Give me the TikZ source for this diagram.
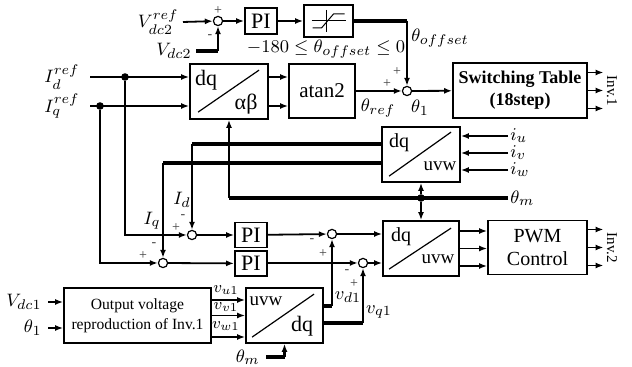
\documentclass[tikz,border=0pt]{standalone}
\usepackage{fontspec}
\setmainfont{Liberation Serif}
\usepackage{tikz}
\usetikzlibrary{arrows.meta}

\begin{document}
\begin{tikzpicture}[
  x=0.5pt, y=-0.5pt,
  box/.style={rectangle, draw, line width=0.9pt, align=center, inner sep=0pt},
  sum/.style={circle, draw, line width=0.6pt, fill=white, inner sep=0pt, minimum size=4.6pt},
  dot/.style={circle, fill, inner sep=0pt, minimum size=3.8pt},
  arrow/.style={-{Latex[length=4pt,width=3pt]}, line width=0.9pt},
  bus/.style={line width=1.7pt},
  lbl/.style={font=\fontsize{9.5}{10}\selectfont, inner sep=1pt},
  slbl/.style={font=\fontsize{8.5}{9}\selectfont, inner sep=0.5pt},
  sgn/.style={font=\fontsize{7}{7}\selectfont, text=black!75, inner sep=0pt},
  blk/.style={font=\fontsize{10}{10}\selectfont, inner sep=0pt},
  inv/.style={rotate=-90, font=\fontsize{7.5}{8}\selectfont, inner sep=1.5pt}
]
\useasboundingbox (0,0) rectangle (632,367);

% DC-link voltage loop
\node[lbl, anchor=east, inner xsep=2pt] (vdcref) at (183,22) {$V_{dc2}^{ref}$};
\node[lbl, anchor=east, inner xsep=2pt] (vdc) at (196,51) {$V_{dc2}$};
\node[sum] (sumv) at (218,21) {};
\node[box, minimum width=16pt, minimum height=13pt, font=\fontsize{11}{11}\selectfont] (pi1) at (261,21) {PI};
\node[box, minimum width=24.5pt, minimum height=16pt] (sat) at (328.5,21) {};
\draw[line width=0.5pt] ([shift={(-17,0)}]sat.center) -- ([shift={(17,0)}]sat.center);
\draw[line width=0.5pt] ([shift={(-2,-11)}]sat.center) -- ([shift={(-2,11)}]sat.center);
\draw[line width=0.5pt] ([shift={(-16,7)}]sat.center) -- ([shift={(-7,7)}]sat.center)
  -- ([shift={(5,-7)}]sat.center) -- ([shift={(16,-7)}]sat.center);
\node[sgn] (sv1) at (218,11) {+};
\node[sgn] (sv2) at (210,37) {-};
\node[lbl] (lim) at (326,49) {$-180\leq\theta_{offset}\leq 0$};

% angle of the current reference
\node[lbl, anchor=east, inner xsep=5pt] (idref) at (90,77) {$I_d^{ref}$};
\node[lbl, anchor=east, inner xsep=5pt] (iqref) at (90,106) {$I_q^{ref}$};
\node[dot] (did) at (125,77) {};
\node[dot] (diq) at (100,106) {};
\node[box, minimum width=39pt, minimum height=27.5pt] (dqab) at (229,91.5) {};
\draw[line width=0.6pt] ([shift={(9,49)}]dqab.north west) -- ([shift={(70,7)}]dqab.north west);
\node[blk, font=\fontsize{11}{11}\selectfont] (dqab1) at ([shift={(17,17)}]dqab.north west) {dq};
\node[blk, font=\fontsize{11}{11}\selectfont] (dqab2) at ([shift={(57,41)}]dqab.north west) {αβ};
\node[box, minimum width=33pt, minimum height=27pt, font=\fontsize{10.5}{11}\selectfont] (atan) at (322,91) {atan2};
\node[sum] (sumth) at (407,91) {};
\node[box, minimum width=67pt, minimum height=27.5pt, font=\fontsize{9}{11}\selectfont\bfseries] (sw) at (520,90.5) {Switching Table\\(18step)};
\node[inv] (inv1) at (612,91) {Inv.1};
\node[lbl] (thoff) at (440,38) {$\theta_{offset}$};
\node[lbl] (thref) at (378,108) {$\theta_{ref}$};
\node[lbl] (th1) at (420,108) {$\theta_1$};
\node[sgn] (st1) at (397,72) {+};
\node[sgn] (st2) at (387,84) {+};

% current control
\node[box, minimum width=39pt, minimum height=27.5pt] (dquvw1) at (421,154.5) {};
\draw[line width=0.6pt] ([shift={(8,50)}]dquvw1.north west) -- ([shift={(70,6)}]dquvw1.north west);
\node[blk] (dquvw1a) at ([shift={(18,17)}]dquvw1.north west) {dq};
\node[blk, font=\fontsize{9.5}{10}\selectfont] (dquvw1b) at ([shift={(59,40)}]dquvw1.north west) {uvw};
\node[lbl, anchor=west] (iu) at (508,136) {$i_u$};
\node[lbl, anchor=west] (iv) at (508,153) {$i_v$};
\node[lbl, anchor=west] (iw) at (508,170) {$i_w$};
\node[lbl, anchor=west] (thm) at (508,198) {$\theta_m$};
\node[dot] (dthm) at (421,198) {};
\node[sum] (sumd) at (192,235) {};
\node[sum] (sumq) at (163,263) {};
\node[box, minimum width=16pt, minimum height=12.5pt, font=\fontsize{11}{11}\selectfont] (pi2) at (251,235) {PI};
\node[box, minimum width=16pt, minimum height=12.5pt, font=\fontsize{11}{11}\selectfont] (pi3) at (251,263.5) {PI};
\node[sum] (sumd2) at (332,234) {};
\node[sum] (sumq2) at (363,263) {};
\node[box, minimum width=38pt, minimum height=27.5pt] (dquvw2) at (421,248.5) {};
\draw[line width=0.6pt] ([shift={(7,49)}]dquvw2.north west) -- ([shift={(69,8)}]dquvw2.north west);
\node[blk] (dquvw2a) at ([shift={(19,17)}]dquvw2.north west) {dq};
\node[blk, font=\fontsize{9.5}{10}\selectfont] (dquvw2b) at ([shift={(56,39)}]dquvw2.north west) {uvw};
\node[box, minimum width=49.5pt, minimum height=27pt, font=\fontsize{10}{11.5}\selectfont] (pwm) at (537.5,247.5) {PWM\\Control};
\node[inv] (inv2) at (612,248) {Inv.2};
\node[lbl] (id) at (182,200) {$I_d$};
\node[lbl] (iq) at (152,221) {$I_q$};
\node[sgn] (sd1) at (183,217) {-};
\node[sgn] (sd2) at (176,228) {+};
\node[sgn] (sq1) at (154,245) {-};
\node[sgn] (sq2) at (143,256) {+};
\node[sgn] (sd3) at (312,241) {-};
\node[sgn] (sd4) at (323,254) {+};
\node[sgn] (sq3) at (347,272) {-};
\node[sgn] (sq4) at (354,284) {+};

% voltage of Inv.1
\node[lbl, anchor=east, inner xsep=3pt] (vdc1) at (48,302) {$V_{dc1}$};
\node[lbl, anchor=east, inner xsep=3pt] (th1b) at (48,328) {$\theta_1$};
\node[box, minimum width=73.5pt, minimum height=27.5pt, font=\fontsize{7.8}{10}\selectfont] (outrep) at (137.5,315.5) {Output voltage\\reproduction of Inv.1};
\node[box, minimum width=38.5pt, minimum height=27.5pt] (uvwdq) at (284.5,315.5) {};
\draw[line width=0.6pt] ([shift={(7,50)}]uvwdq.north west) -- ([shift={(69,7)}]uvwdq.north west);
\node[blk, font=\fontsize{9.5}{10}\selectfont] (uvwdqa) at ([shift={(21,14)}]uvwdq.north west) {uvw};
\node[blk, font=\fontsize{11}{11}\selectfont] (uvwdqb) at ([shift={(57,39)}]uvwdq.north west) {dq};
\node[slbl] (vu1) at (226,290) {$v_{u1}$};
\node[slbl] (vv1) at (226,307) {$v_{v1}$};
\node[slbl] (vw1) at (226,326) {$v_{w1}$};
\node[lbl] (vd1) at (348,297) {$v_{d1}$};
\node[lbl] (vq1) at (379,312) {$v_{q1}$};
\node[lbl, anchor=east, inner xsep=3pt] (thm2) at (266,357) {$\theta_m$};

% connectors
\draw[arrow] (vdcref.east) -- (sumv);
\draw[bus] (vdc.east) -- (vdc.east -| sumv);
\draw[arrow] (vdc.east -| sumv) -- (sumv);
\draw[arrow] (sumv) -- (pi1);
\draw[arrow] (pi1) -- (sat);
\draw[bus] (sat.east) -- (sat.east -| sumth);
\draw[arrow] (sat.east -| sumth) -- (sumth);

\draw[arrow] (idref.east) -- (idref.east -| dqab.west);
\draw[arrow] (iqref.east) -- (iqref.east -| dqab.west);
\draw[arrow] ([yshift=7.25pt]dqab.east) -- ([yshift=7.25pt]dqab.east -| atan.west);
\draw[arrow] ([yshift=-7.25pt]dqab.east) -- ([yshift=-7.25pt]dqab.east -| atan.west);
\draw[arrow] (atan) -- (sumth);
\draw[arrow] (sumth) -- (sw);
\draw[arrow] ([yshift=9pt]sw.east) -- ([yshift=9pt]sw.east -| inv1.south);
\draw[arrow] (sw.east) -- (sw.east -| inv1.south);
\draw[arrow] ([yshift=-9pt]sw.east) -- ([yshift=-9pt]sw.east -| inv1.south);

\draw[arrow] (iu.west) -- (iu.west -| dquvw1.east);
\draw[arrow] (iv.west) -- (iv.west -| dquvw1.east);
\draw[arrow] (iw.west) -- (iw.west -| dquvw1.east);
\draw[bus] ([yshift=5.25pt]dquvw1.west) -- ([yshift=5.25pt]dquvw1.west -| sumd);
\draw[arrow] ([yshift=5.25pt]dquvw1.west -| sumd) -- (sumd);
\draw[bus] ([yshift=-4.25pt]dquvw1.west) -- ([yshift=-4.25pt]dquvw1.west -| sumq);
\draw[arrow] ([yshift=-4.25pt]dquvw1.west -| sumq) -- (sumq);
\draw[bus] (thm.west) -- (thm.west -| dqab);
\draw[arrow] (thm.west -| dqab) -- (dqab.south);
\draw[arrow] (dthm) -- (dquvw1.south);
\draw[arrow] (dthm) -- (dquvw2.north);

\draw[arrow] (did) |- (sumd);
\draw[arrow] (diq) |- (sumq);
\draw[arrow] (sumd) -- (pi2);
\draw[arrow] (sumq) -- (pi3);
\draw[arrow] (pi2) -- (sumd2);
\draw[arrow] (pi3.east |- sumq2) -- (sumq2);
\draw[arrow] (sumd2) -- (sumd2 -| dquvw2.west);
\draw[arrow] (sumq2) -- (sumq2 -| dquvw2.west);
\draw[arrow] ([yshift=8.75pt]dquvw2.east) -- ([yshift=8.75pt]dquvw2.east -| pwm.west);
\draw[arrow] (dquvw2.east) -- (dquvw2.east -| pwm.west);
\draw[arrow] ([yshift=-8.75pt]dquvw2.east) -- ([yshift=-8.75pt]dquvw2.east -| pwm.west);
\draw[arrow] ([yshift=9pt]pwm.east) -- ([yshift=9pt]pwm.east -| inv2.south);
\draw[arrow] (pwm.east) -- (pwm.east -| inv2.south);
\draw[arrow] ([yshift=-9pt]pwm.east) -- ([yshift=-9pt]pwm.east -| inv2.south);

\draw[arrow] (vdc1.east) -- (vdc1.east -| outrep.west);
\draw[arrow] (th1b.east) -- (th1b.east -| outrep.west);
\draw[arrow] ([yshift=7.75pt]outrep.east) -- ([yshift=7.75pt]outrep.east -| uvwdq.west);
\draw[arrow] (outrep.east) -- (outrep.east -| uvwdq.west);
\draw[arrow] ([yshift=-10.75pt]outrep.east) -- ([yshift=-10.75pt]outrep.east -| uvwdq.west);
\draw[bus] ([yshift=4.75pt]uvwdq.east) -- ([yshift=4.75pt]uvwdq.east -| sumd2);
\draw[arrow] ([yshift=4.75pt]uvwdq.east -| sumd2) -- (sumd2);
\draw[bus] ([yshift=-3.75pt]uvwdq.east) -- ([yshift=-3.75pt]uvwdq.east -| sumq2);
\draw[arrow] ([yshift=-3.75pt]uvwdq.east -| sumq2) -- (sumq2);
\draw[bus] (thm2.east) -- (thm2.east -| uvwdq);
\draw[arrow, line width=1.4pt] (thm2.east -| uvwdq) -- (uvwdq.south);

\end{tikzpicture}
\end{document}
